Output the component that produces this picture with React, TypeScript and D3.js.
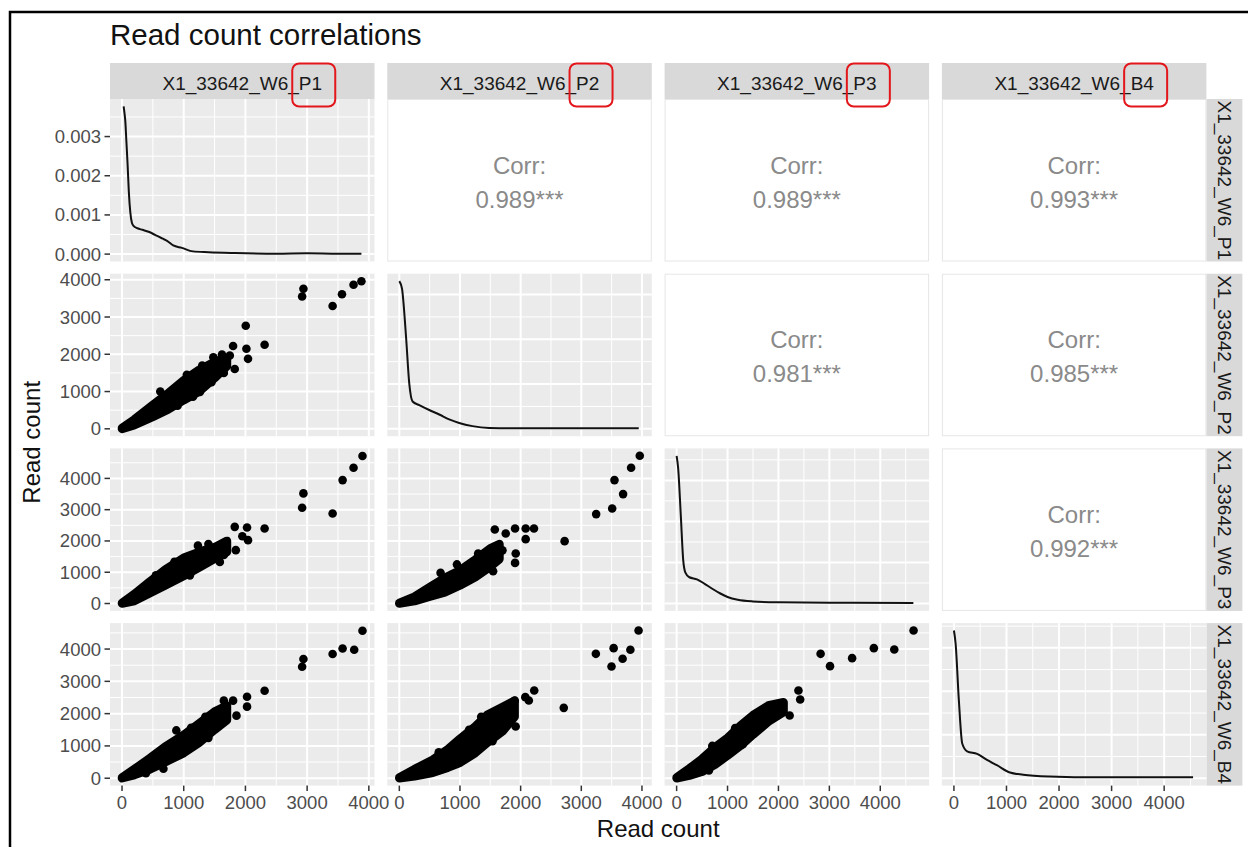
import React from 'react';
import * as d3 from 'd3';

const FONT = '"Liberation Sans", Arial, Helvetica, sans-serif';
const W = 1248;
const H = 847;

// facet layout
const left0 = 110;
const panelW = 264.5;
const colStep = 277.3;
const top0 = 99;
const panelH = 162.5;
const rowStep = 174.7;
const stripH = 36;
const dotR = 4.3;

const variables = ['X1_33642_W6_P1', 'X1_33642_W6_P2', 'X1_33642_W6_P3', 'X1_33642_W6_B4'];

// diagonal: density of read counts, [read count, density]
const densityP1 = [[26, 0.00377], [40, 0.0036], [53, 0.0034], [70, 0.0029], [90, 0.0023], [110, 0.0016], [134, 0.00107], [160, 0.0008], [187, 0.00072], [250, 0.00066], [330, 0.00062], [430, 0.00057], [500, 0.00052], [560, 0.00047], [650, 0.0004], [730, 0.00034], [830, 0.00022], [970, 0.00016], [1150, 0.00007], [1400, 0.00005], [1800, 0.00003], [2500, 0.00001], [3000, 0.00002], [3500, 0.00001], [3880, 0.00001]];
const densityP2 = [[0, 0.0033], [44, 0.00313], [110, 0.00207], [164, 0.00101], [219, 0.00061], [329, 0.00053], [493, 0.00042], [658, 0.00032], [822, 0.00021], [987, 0.00013], [1206, 0.00006], [1480, 0.00002], [2000, 0.00001], [3000, 0.00001], [3947, 0.00001]];
const densityP3 = [[0, 0.0036], [30, 0.0033], [80, 0.0022], [130, 0.00105], [170, 0.00076], [250, 0.00064], [400, 0.00059], [550, 0.00048], [700, 0.00036], [850, 0.00025], [1000, 0.00016], [1200, 0.00009], [1500, 0.00005], [2000, 0.00003], [3000, 0.00002], [4650, 0.00001]];
const densityB4 = [[0, 0.0034], [32, 0.0031], [94, 0.00179], [158, 0.0008], [252, 0.00062], [441, 0.00056], [629, 0.00042], [817, 0.0003], [1068, 0.00013], [1318, 0.00008], [1815, 0.00004], [2763, 0.00002], [4550, 0.00002]];
const densities = [densityP1, densityP2, densityP3, densityB4];

// upper triangle correlations
const corrRows = [0, 0, 0, 1, 1, 2];
const corrCols = [1, 2, 3, 2, 3, 3];
const corrValues = ['0.989', '0.989', '0.993', '0.981', '0.985', '0.992'];

// lower triangle: dense cloud of genes as [x, yLow, yHigh], plus separate points [x, y]
const bandP1P2 = [[0, 0, 20], [200, 100, 250], [500, 320, 640], [750, 520, 960], [1000, 770, 1300], [1250, 1000, 1580], [1500, 1360, 1800], [1700, 1680, 1900]];
const pointsP1P2 = [[3880, 3960], [3752, 3865], [3565, 3612], [3413, 3295], [2940, 3757], [2919, 3550], [2005, 2764], [2311, 2257], [2016, 2149], [1800, 2222], [2042, 1878], [1827, 1607], [1747, 1968], [1263, 992], [620, 1000], [1050, 1450], [1300, 1700], [1480, 1920], [1620, 1990], [1150, 860], [1450, 1250], [1650, 1500], [900, 620]];

const bandP1P3 = [[0, 0, 20], [200, 80, 300], [450, 330, 700], [700, 580, 1080], [1000, 880, 1460], [1250, 1150, 1650], [1500, 1430, 1800], [1700, 1650, 2000]];
const pointsP1P3 = [[3897, 4714], [3752, 4339], [3575, 3946], [3413, 2880], [2940, 3520], [2919, 3060], [2311, 2400], [2026, 2432], [2042, 2026], [1827, 2451], [1844, 1706], [1585, 1331], [1950, 2150], [1230, 1850], [850, 1330], [550, 900], [1650, 1550], [1100, 900], [1400, 1900]];

const bandP2P3 = [[0, 0, 20], [250, 80, 220], [500, 220, 520], [750, 360, 820], [1000, 580, 1060], [1250, 840, 1400], [1500, 1180, 1760], [1650, 1420, 1900]];
const pointsP2P3 = [[3964, 4723], [3821, 4339], [3547, 3946], [3689, 3498], [3509, 3040], [3245, 2858], [2725, 1994], [2220, 2400], [2083, 2400], [1908, 2400], [1574, 2368], [2083, 2058], [1754, 2240], [1908, 1299], [1546, 1034], [1919, 1600], [680, 980], [950, 1250], [1300, 1600], [1100, 820], [1700, 1700]];

const bandP1B4 = [[0, 0, 20], [200, 100, 280], [450, 270, 620], [700, 500, 980], [1000, 780, 1340], [1250, 1100, 1700], [1500, 1500, 2060], [1700, 1800, 2250]];
const pointsP1B4 = [[3897, 4566], [3763, 3978], [3575, 4019], [3413, 3845], [2940, 3690], [2919, 3453], [2311, 2711], [2026, 2525], [2026, 2216], [1855, 1938], [1800, 2402], [1650, 2402], [671, 291], [387, 155], [880, 1480], [1120, 1560], [1350, 1900], [1400, 1250], [800, 640]];

const bandP2B4 = [[0, 0, 20], [250, 60, 280], [550, 170, 570], [800, 330, 900], [1000, 480, 1220], [1250, 780, 1600], [1450, 1100, 1960], [1700, 1450, 2200], [1900, 1900, 2400]];
const pointsP2B4 = [[3944, 4575], [3533, 4028], [3240, 3852], [3809, 3978], [3681, 3700], [3498, 3459], [2711, 2179], [2224, 2717], [2077, 2510], [1901, 2408], [1918, 1601], [1536, 1147], [2135, 2408], [560, 260], [650, 800], [1150, 1500], [1350, 1900], [900, 600]];

const bandP3B4 = [[0, 0, 20], [250, 80, 300], [500, 200, 600], [750, 420, 950], [1000, 700, 1250], [1250, 1000, 1620], [1500, 1350, 1950], [1800, 1750, 2250], [2100, 2050, 2350]];
const pointsP3B4 = [[4654, 4575], [4275, 3988], [3874, 4028], [3447, 3719], [3013, 3471], [2828, 3852], [2393, 2717], [2427, 2439], [2220, 1941], [634, 238], [700, 1000], [1150, 1550], [1600, 1950], [1300, 1050], [900, 640]];

const scatterPanels = [
  { row: 1, col: 0, band: bandP1P2, points: pointsP1P2 },
  { row: 2, col: 0, band: bandP1P3, points: pointsP1P3 },
  { row: 2, col: 1, band: bandP2P3, points: pointsP2P3 },
  { row: 3, col: 0, band: bandP1B4, points: pointsP1B4 },
  { row: 3, col: 1, band: bandP2B4, points: pointsP2B4 },
  { row: 3, col: 2, band: bandP3B4, points: pointsP3B4 },
];

const expand = ([a, b]: number[]) => {
  const pad = (b - a) * 0.05;
  return [a - pad, b + pad];
};

const panelX = (c: number) => left0 + c * colStep;
const panelY = (r: number) => top0 + r * rowStep;

// max read count per variable, from everything drawn for it
const varMax = variables.map((_, i) => {
  const vals: number[] = densities[i].map(d => d[0]);
  scatterPanels.forEach(p => {
    if (p.col === i) p.points.concat(p.band).forEach(d => vals.push(d[0]));
    if (p.row === i) {
      p.points.forEach(d => vals.push(d[1]));
      p.band.forEach(d => vals.push(d[2]));
    }
  });
  return d3.max(vals) as number;
});

const xScales = variables.map((_, c) =>
  d3.scaleLinear().domain(expand([0, varMax[c]])).range([panelX(c), panelX(c) + panelW])
);
const countY = variables.map((_, r) =>
  d3.scaleLinear().domain(expand([0, varMax[r]])).range([panelY(r) + panelH, panelY(r)])
);
const densY = variables.map((_, r) =>
  d3.scaleLinear().domain(expand([0, d3.max(densities[r], d => d[1]) as number])).range([panelY(r) + panelH, panelY(r)])
);

function gridValues(scale: d3.ScaleLinear<number, number>) {
  const major = scale.ticks(5);
  const step = major[1] - major[0];
  const [lo, hi] = scale.domain();
  const minor: number[] = [];
  for (let v = major[0] - step / 2; v <= hi; v += step) if (v >= lo) minor.push(v);
  return { major, minor };
}

function GreyPanel({ row, col, yScale, children }: any) {
  const x = xScales[col];
  const gx = gridValues(x);
  const gy = gridValues(yScale);
  const x0 = panelX(col), y0 = panelY(row);
  return (
    <g>
      <rect x={x0} y={y0} width={panelW} height={panelH} fill="#EBEBEB" />
      {gx.minor.map((v, i) => (
        <line key={'xm' + i} x1={x(v)} x2={x(v)} y1={y0} y2={y0 + panelH} stroke="#fff" strokeWidth={1} />
      ))}
      {gy.minor.map((v, i) => (
        <line key={'ym' + i} x1={x0} x2={x0 + panelW} y1={yScale(v)} y2={yScale(v)} stroke="#fff" strokeWidth={1} />
      ))}
      {gx.major.map((v, i) => (
        <line key={'xM' + i} x1={x(v)} x2={x(v)} y1={y0} y2={y0 + panelH} stroke="#fff" strokeWidth={2} />
      ))}
      {gy.major.map((v, i) => (
        <line key={'yM' + i} x1={x0} x2={x0 + panelW} y1={yScale(v)} y2={yScale(v)} stroke="#fff" strokeWidth={2} />
      ))}
      {children}
    </g>
  );
}

export default function App() {
  const panels: any[] = [];

  // diagonal densities
  variables.forEach((_, i) => {
    const x = xScales[i];
    const y = densY[i];
    const line = d3.line<number[]>().x(d => x(d[0])).y(d => y(d[1])).curve(d3.curveMonotoneX);
    panels.push(
      <GreyPanel key={'d' + i} row={i} col={i} yScale={y}>
        <path d={line(densities[i] as any) || ''} fill="none" stroke="#111" strokeWidth={2} />
      </GreyPanel>
    );
  });

  // lower triangle scatter
  scatterPanels.forEach((p, k) => {
    const x = xScales[p.col];
    const y = countY[p.row];
    const area = d3.area<number[]>().x(d => x(d[0])).y0(d => y(d[1])).y1(d => y(d[2]));
    panels.push(
      <GreyPanel key={'s' + k} row={p.row} col={p.col} yScale={y}>
        <path d={area(p.band as any) || ''} fill="#000" stroke="#000" strokeWidth={dotR * 2} strokeLinejoin="round" />
        {p.points.map((d, j) => (
          <circle key={j} cx={x(d[0])} cy={y(d[1])} r={dotR} fill="#000" />
        ))}
      </GreyPanel>
    );
  });

  // upper triangle correlations
  corrValues.forEach((v, k) => {
    const x0 = panelX(corrCols[k]);
    const y0 = panelY(corrRows[k]);
    const cx = x0 + panelW / 2;
    const cy = y0 + panelH / 2;
    panels.push(
      <g key={'c' + k}>
        <rect x={x0 + 0.5} y={y0 + 0.5} width={panelW - 1} height={panelH - 1} fill="#fff" stroke="#E6E6E6" strokeWidth={1} />
        <text x={cx} y={cy - 15} textAnchor="middle" dominantBaseline="central" fontSize={24} fill="#8A8A8A">Corr:</text>
        <text x={cx} y={cy + 19} textAnchor="middle" dominantBaseline="central" fontSize={24} fill="#8A8A8A">{v + '***'}</text>
      </g>
    );
  });

  const stripTop = top0 - stripH;
  const rightStripX = panelX(3) + panelW;

  return (
    <div style={{ position: 'absolute', left: 0, top: 0 }}>
      <svg width={W} height={H} style={{ display: 'block', fontFamily: FONT }}>
        <rect width={W} height={H} fill="#fff" />
        <path d={`M10,${H} V12 H${W}`} fill="none" stroke="#000" strokeWidth={2.5} />

        <text x={left0} y={45} fontSize={29.5} fill="#111">Read count correlations</text>

        {/* top strips */}
        {variables.map((v, c) => (
          <g key={'ts' + c}>
            <rect x={panelX(c)} y={stripTop} width={panelW} height={stripH} fill="#D9D9D9" />
            <text x={panelX(c) + panelW / 2} y={stripTop + 27} textAnchor="middle" fontSize={19} fill="#1A1A1A">{v}</text>
          </g>
        ))}

        {/* right strips */}
        {variables.map((v, r) => {
          const cy = panelY(r) + panelH / 2;
          return (
            <g key={'rs' + r}>
              <rect x={rightStripX} y={panelY(r)} width={stripH} height={panelH} fill="#D9D9D9" />
              <text transform={`translate(${rightStripX + stripH / 2},${cy}) rotate(90)`} textAnchor="middle" dominantBaseline="central" fontSize={19} fill="#1A1A1A">{v}</text>
            </g>
          );
        })}

        {panels}

        {/* left axes */}
        {variables.map((_, r) => {
          const y = r === 0 ? densY[0] : countY[r];
          const fmt = r === 0 ? d3.format('.3f') : d3.format('d');
          return (
            <g key={'la' + r}>
              {y.ticks(5).map((t, j) => (
                <g key={j}>
                  <line x1={left0 - 5.5} x2={left0} y1={y(t)} y2={y(t)} stroke="#333" strokeWidth={1.5} />
                  <text x={left0 - 9} y={y(t)} textAnchor="end" dominantBaseline="central" fontSize={18.5} fill="#4D4D4D">{fmt(t)}</text>
                </g>
              ))}
            </g>
          );
        })}

        {/* bottom axes */}
        {variables.map((_, c) => {
          const x = xScales[c];
          const yb = panelY(3) + panelH;
          return (
            <g key={'ba' + c}>
              {x.ticks(5).map((t, j) => (
                <g key={j}>
                  <line x1={x(t)} x2={x(t)} y1={yb} y2={yb + 5.5} stroke="#333" strokeWidth={1.5} />
                  <text x={x(t)} y={yb + 23.5} textAnchor="middle" fontSize={18.5} fill="#4D4D4D">{t}</text>
                </g>
              ))}
            </g>
          );
        })}

        <text x={(left0 + rightStripX) / 2} y={837} textAnchor="middle" fontSize={24} fill="#111">Read count</text>
        <text transform={`translate(40,${(top0 + panelY(3) + panelH) / 2}) rotate(-90)`} textAnchor="middle" fontSize={24} fill="#111">Read count</text>

        {/* highlight boxes around the sample suffix */}
        {variables.map((_, c) => (
          <rect key={'hb' + c} x={panelX(c) + panelW / 2 + 50} y={stripTop + 0.5} width={43} height={43} rx={7} fill="none" stroke="#E3161B" strokeWidth={2} />
        ))}
      </svg>
    </div>
  );
}
